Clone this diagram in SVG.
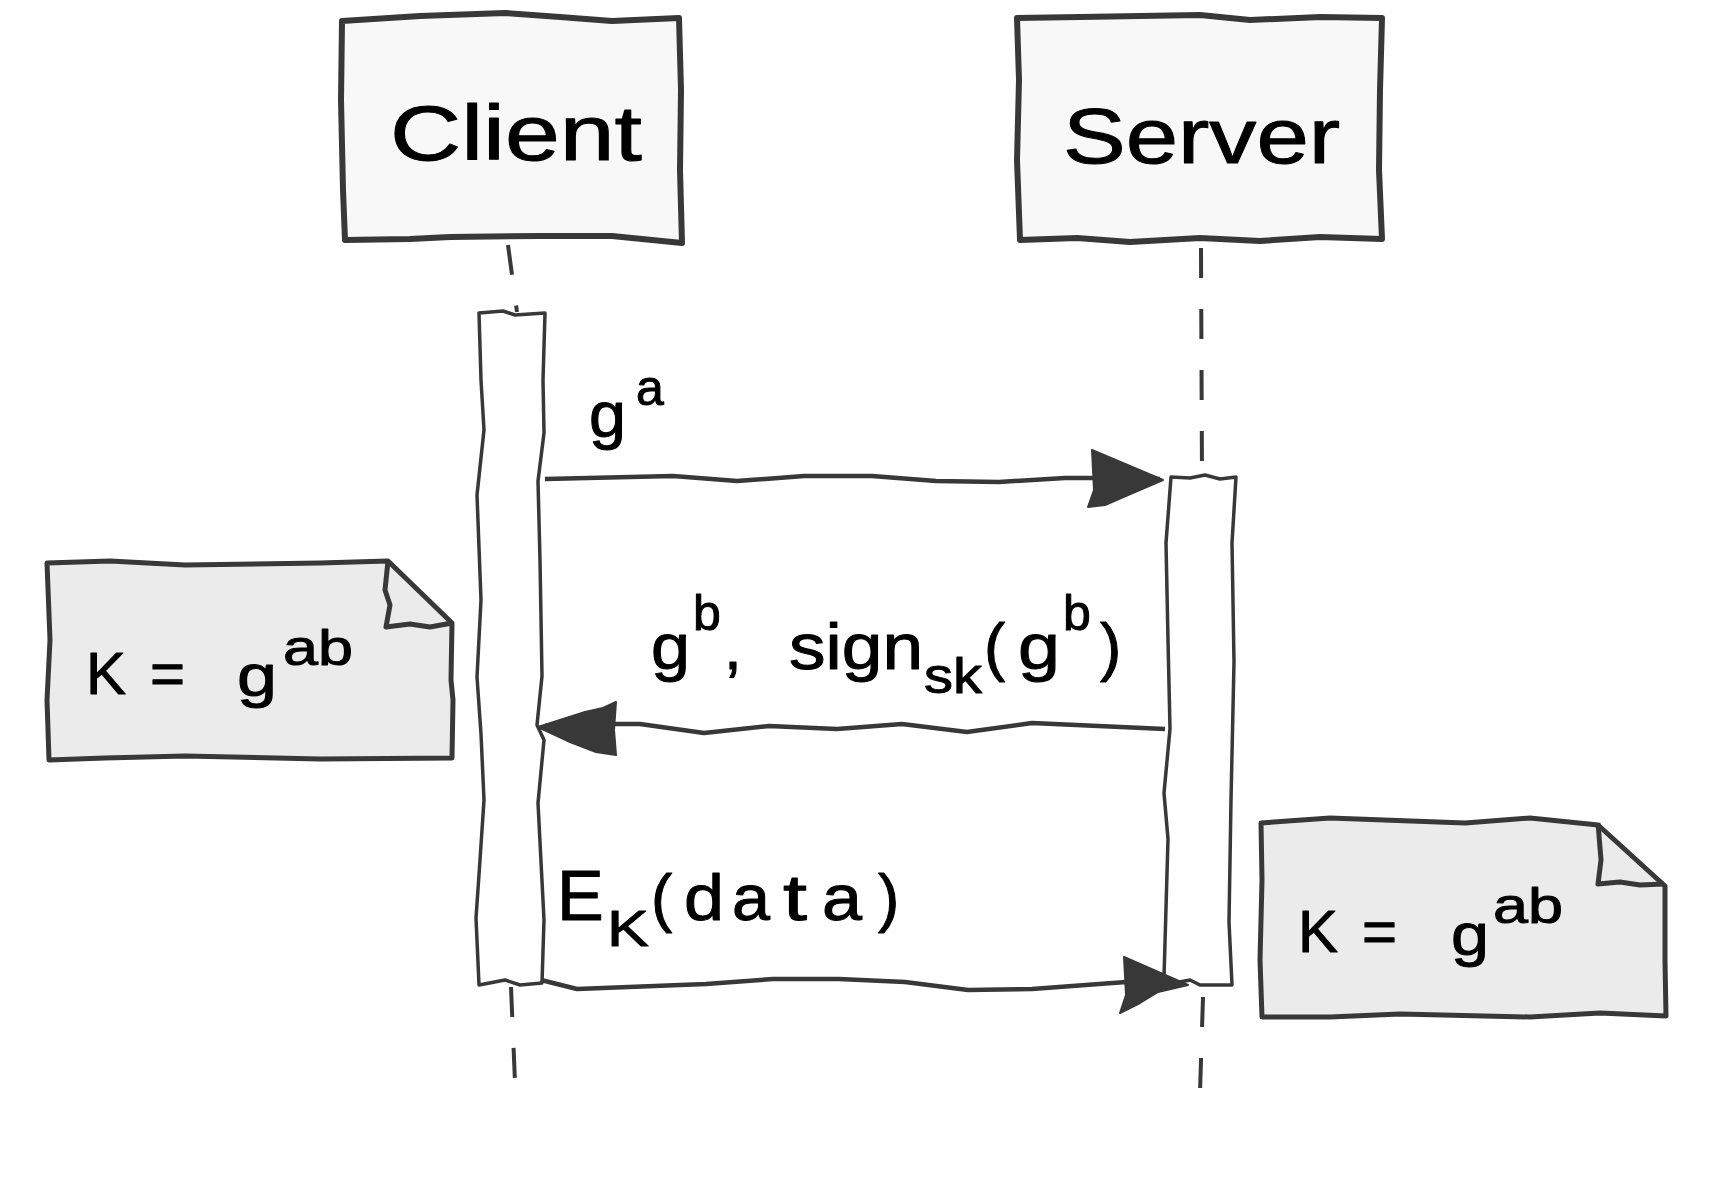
<svg xmlns="http://www.w3.org/2000/svg" width="1731" height="1180" viewBox="0 0 1731 1180">
<style>
.bg{fill:#ffffff}
.part{fill:#f8f8f8;stroke:#383838;stroke-width:6;stroke-linejoin:round}
.note{fill:#ebebeb;stroke:#383838;stroke-width:5;stroke-linejoin:round}
.fold{fill:none;stroke:#383838;stroke-width:5;stroke-linejoin:round}
.act{fill:#ffffff;stroke:#383838;stroke-width:3.5;stroke-linejoin:round}
.life{fill:none;stroke:#383838;stroke-width:4;stroke-dasharray:30 31}
.msg{fill:none;stroke:#383838;stroke-width:4.5;stroke-linejoin:round}
.head{fill:#383838;stroke:#383838;stroke-width:2;stroke-linejoin:round}
.t{font-family:"Liberation Sans","DejaVu Sans",sans-serif;fill:#000000;stroke:#000000;stroke-width:1;stroke-linejoin:round}
.big{font-size:78px}
.lab{font-size:64px}
.cap{font-size:70px}
.sup{font-size:50px}
.nt{font-size:60px}
</style>
<rect class="bg" x="0" y="0" width="1731" height="1180"/>

<g id="lifelines">
<path class="life" d="M508,245 L517,312"/>
<path class="life" d="M511,987 L515,1082"/>
<path class="life" d="M1201,248 L1202,477"/>
<path class="life" d="M1203,997 L1200,1092"/>
</g>

<g id="client">
<path class="part" d="M342,21 L420,16 L505,13 L560,17 L612,21 L679,18 L681,90 L680,170 L682,243 L612,236 L540,236 L450,237 L410,239 L345,240 L343,190 L341,100 Z"/>
<text class="t big" x="390" y="160" textLength="252" lengthAdjust="spacingAndGlyphs">Client</text>
</g>

<g id="server">
<path class="part" d="M1017,18 L1080,17 L1200,15 L1250,20 L1320,17 L1382,18 L1380,90 L1379,170 L1382,239 L1320,237 L1260,241 L1200,238 L1130,242 L1077,238 L1020,240 L1017,160 L1019,80 Z"/>
<text class="t big" x="1063" y="163" textLength="277" lengthAdjust="spacingAndGlyphs">Server</text>
</g>

<g id="client-activation">
<path class="act" d="M479,313 L503,311 L515,315 L545,313 L543,380 L544,433 L538,481 L540,560 L542,676 L537,725 L544,740 L538,803 L544,920 L542,983 L520,985 L505,980 L479,985 L476,918 L480,860 L484,800 L481,734 L477,677 L481,600 L477,495 L484,430 L481,380 Z"/>
</g>

<g id="server-activation">
<path class="act" d="M1171,477 L1190,478 L1205,475 L1220,479 L1236,477 L1232,543 L1234,662 L1231,800 L1229,922 L1232,985 L1200,985 L1190,980 L1164,985 L1164,977 L1168,839 L1164,793 L1170,729 L1168,640 L1166,543 Z"/>
</g>

<g id="connectors">
<path class="msg" d="M545,479 L673,476 L737,481 L804,476 L872,476 L936,481 L999,482 L1065,478 L1100,478 L1160,479"/>
<path class="head" d="M1092,450 L1163,480 L1128,495 L1105,505 L1088,507 L1094,490 Z"/>

<path class="msg" d="M1165,729 L1032,723 L967,732 L902,724 L837,729 L769,726 L704,733 L640,724 L613,724 L545,726"/>
<path class="head" d="M616,702 L603,708 L585,712 L538,727 L570,742 L596,752 L616,755 L614,730 Z"/>

<path class="msg" d="M541,980 L577,989 L706,984 L773,979 L839,979 L905,982 L968,990 L1032,989 L1126,982 L1180,985"/>
<path class="head" d="M1124,957 L1188,985 L1158,992 L1140,1003 L1120,1013 L1126,995 Z"/>
</g>

<g id="label-ga">
<text class="t lab" x="589" y="437" textLength="37" lengthAdjust="spacingAndGlyphs">g</text>
<text class="t sup" x="636" y="405">a</text>
</g>

<g id="label-gb">
<text class="t lab" x="651" y="669" textLength="39" lengthAdjust="spacingAndGlyphs">g</text>
<text class="t sup" x="693" y="630">b</text>
<text class="t lab" x="724" y="669">,</text>
<text class="t lab" x="789" y="669" textLength="134" lengthAdjust="spacingAndGlyphs">sign</text>
<text class="t sup" x="924" y="693" textLength="58" lengthAdjust="spacingAndGlyphs">sk</text>
<text class="t lab" x="984" y="669">(</text>
<text class="t lab" x="1018" y="669" textLength="42" lengthAdjust="spacingAndGlyphs">g</text>
<text class="t sup" x="1063" y="630">b</text>
<text class="t lab" x="1100" y="669">)</text>
</g>

<g id="label-ek">
<text class="t cap" x="557" y="920">E</text>
<text class="t sup" x="607" y="946" textLength="42" lengthAdjust="spacingAndGlyphs">K</text>
<text class="t lab" x="651" y="920">(</text>
<text class="t lab" x="684" y="920" textLength="40" lengthAdjust="spacingAndGlyphs">d</text>
<text class="t lab" x="732" y="920" textLength="38" lengthAdjust="spacingAndGlyphs">a</text>
<text class="t lab" x="783" y="920" textLength="24" lengthAdjust="spacingAndGlyphs">t</text>
<text class="t lab" x="822" y="920" textLength="40" lengthAdjust="spacingAndGlyphs">a</text>
<text class="t lab" x="878" y="920">)</text>
</g>

<g id="note-client">
<path class="note" d="M47,563 L110,561 L185,565 L320,563 L388,561 L452,623 L451,680 L453,700 L452,758 L320,759 L185,756 L105,758 L49,760 L47,700 L50,640 Z"/>
<path class="fold" d="M388,561 L385,590 L390,605 L386,627 L410,624 L430,627 L452,623"/>
<text class="t nt" x="86" y="694">K</text>
<text class="t nt" x="150" y="694">=</text>
<text class="t nt" x="237" y="696" textLength="40" lengthAdjust="spacingAndGlyphs">g</text>
<text class="t sup" x="283" y="665" textLength="70" lengthAdjust="spacingAndGlyphs">ab</text>
</g>

<g id="note-server">
<path class="note" d="M1261,823 L1330,818 L1465,823 L1530,818 L1598,825 L1665,886 L1665,960 L1666,1016 L1600,1013 L1530,1017 L1400,1014 L1330,1017 L1262,1017 L1260,960 L1262,880 Z"/>
<path class="fold" d="M1598,823 L1601,860 L1598,884 L1620,882 L1640,885 L1664,884"/>
<text class="t nt" x="1298" y="952">K</text>
<text class="t nt" x="1362" y="952">=</text>
<text class="t nt" x="1451" y="955" textLength="38" lengthAdjust="spacingAndGlyphs">g</text>
<text class="t sup" x="1493" y="923" textLength="70" lengthAdjust="spacingAndGlyphs">ab</text>
</g>
</svg>
